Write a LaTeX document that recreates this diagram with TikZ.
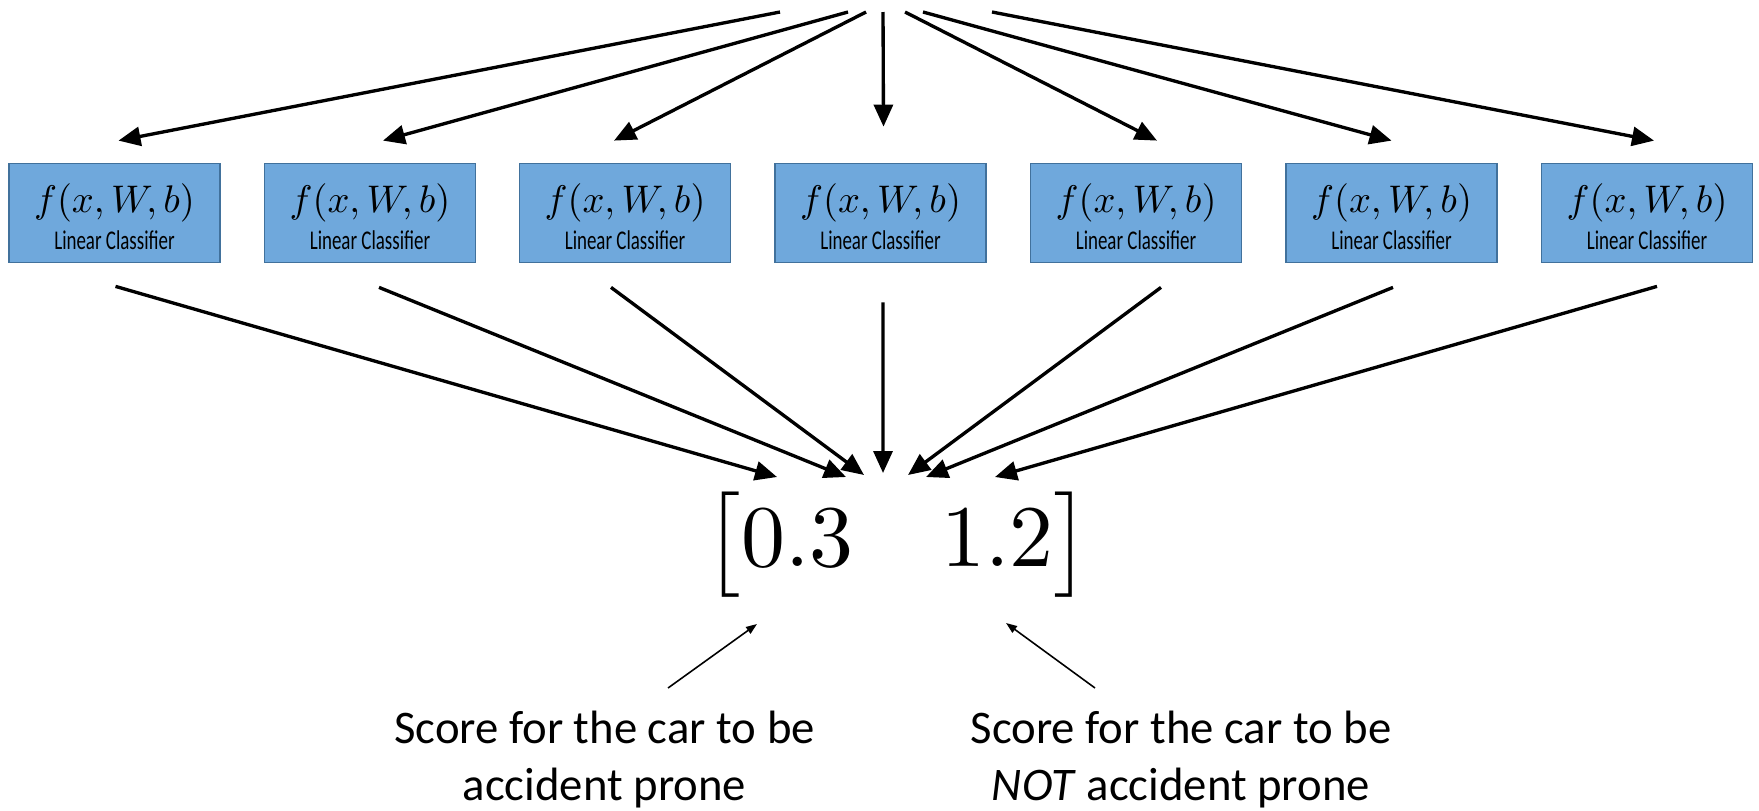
\documentclass[tikz,border=0pt]{standalone}
\usepackage{amsmath}
\usepackage{fontspec}
\usepackage{tikz}
\usetikzlibrary{arrows.meta}
\newfontfamily\calibri{Carlito}
\newfontfamily\lcfont[FakeStretch=0.7]{Carlito}
\definecolor{boxFill}{RGB}{111,168,220}
\definecolor{boxEdge}{RGB}{65,113,156}

\begin{document}
\begin{tikzpicture}[
    clsbox/.style={draw=boxEdge, fill=boxFill, line width=0.5pt, minimum width=2.11cm,
      minimum height=0.99cm, inner sep=0pt, align=center, font=\fontsize{10.8}{10.5}\selectfont},
    fan/.style={line width=0.95pt, -{Triangle[length=0.22cm, width=0.19cm]}},
    pointer/.style={line width=0.45pt, -{Triangle[length=0.11cm, width=0.08cm]}},
    note/.style={font=\calibri\fontsize{13.3}{16.2}\selectfont, align=center}
  ]
  \useasboundingbox (0,0) rectangle (17.59,8.10);

  % the seven classifiers
  \foreach \i/\x in {1/1.145, 2/3.70, 3/6.25, 4/8.805, 5/11.36, 6/13.915, 7/16.47}
    \node[clsbox] (cls\i) at (\x,5.97)
      {$f(x,W,b)$\rule{0pt}{10.5pt}\\{\lcfont\fontsize{7.7}{10.5}\selectfont Linear Classifier}};

  % input fans out to every classifier
  \foreach \i/\sx/\dx/\dy in {1/7.80/0.04/0.22, 2/8.48/0.13/0.22, 3/8.66/-0.11/0.22,
      4/8.83/0.03/0.36, 5/9.05/0.21/0.22, 6/9.23/0/0.22, 7/9.92/0.07/0.22}{
    \coordinate (in\i) at (\sx,7.98);
    \draw[fan] (in\i) -- ([xshift=\dx cm, yshift=\dy cm]cls\i.north);
  }

  % every classifier feeds the scores
  \foreach \i/\dx/\dy/\tx/\ty in {1/0.01/0.23/7.77/3.33, 2/0.09/0.24/8.46/3.33,
      3/-0.14/0.24/8.64/3.35, 4/0.025/0.39/8.83/3.37, 5/0.25/0.24/9.08/3.35,
      6/0.015/0.24/9.26/3.33, 7/0.10/0.23/9.95/3.33}{
    \coordinate (out\i) at (\tx,\ty);
    \draw[fan] ([xshift=\dx cm, yshift=-\dy cm]cls\i.south) -- (out\i);
  }

  \node[anchor=base, scale=2.5] (scores) at (8.975,2.43)
    {$\begin{bmatrix} 0.3 & 1.2 \end{bmatrix}$};

  % what the two numbers mean
  \node[note, anchor=base] (noteL) at (6.045,0.10) {Score for the car to be\\accident prone};
  \node[note, anchor=base] (noteR) at (11.81,0.10) {Score for the car to be\\\textit{NOT} accident prone};

  \coordinate (fromL) at (6.68,1.22);
  \coordinate (toL) at (7.57,1.86);
  \coordinate (fromR) at (10.95,1.22);
  \coordinate (toR) at (10.06,1.87);
  \draw[pointer] (fromL) -- (toL);
  \draw[pointer] (fromR) -- (toR);
\end{tikzpicture}
\end{document}
